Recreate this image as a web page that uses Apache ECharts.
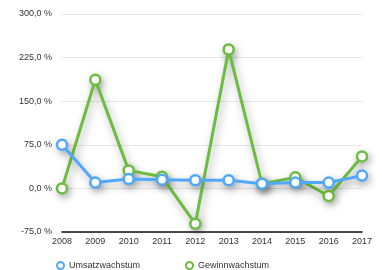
<!DOCTYPE html>
<html><head><meta charset="utf-8">
<script src="https://cdn.jsdelivr.net/npm/echarts@6/dist/echarts.min.js"></script>
<style>html,body{margin:0;padding:0;background:#fff}#c{width:382px;height:270px}</style>
</head><body><div id="c"></div>
<script>
var years = ['2008','2009','2010','2011','2012','2013','2014','2015','2016','2017'];
var umsatz = [75, 10, 16, 15, 14, 14, 8, 10, 10, 22];
var gewinn = [0, 187, 31, 20, -61, 239, 8, 19, -13, 55];
var seriesNames = ['Umsatzwachstum', 'Gewinnwachstum'];
var colors = ['#4fa8fa', '#6cbd3f'];

var chart = echarts.init(document.getElementById('c'));
function mk(name, data, color, z) {
  return {
    name: name, type: 'line', data: data, z: z,
    symbol: 'circle', symbolSize: 10,
    itemStyle: { color: '#fff', borderColor: color, borderWidth: 2.5 },
    lineStyle: { color: color, width: 3,
      shadowColor: 'rgba(0,0,0,0.35)', shadowBlur: 8, shadowOffsetX: 2, shadowOffsetY: 4 },
    emphasis: { disabled: true }
  };
}
function shadowLayer(data) {
  return {
    type: 'scatter', data: data, z: 1, symbolSize: 11, silent: true,
    itemStyle: { color: '#fff', shadowColor: 'rgba(0,0,0,0.55)', shadowBlur: 9, shadowOffsetX: 2, shadowOffsetY: 3 }
  };
}
chart.setOption({
  animation: false,
  color: colors,
  grid: { left: 62, right: 20, top: 14, bottom: 38 },
  legend: {
    left: 51, top: 256, itemGap: 45, itemWidth: 7, itemHeight: 7,
    icon: 'circle',
    textStyle: { fontSize: 9, color: '#333', fontFamily: 'Liberation Sans' },
    data: [
      { name: seriesNames[0], itemStyle: { color: '#fff', borderColor: colors[0], borderWidth: 2 } },
      { name: seriesNames[1], itemStyle: { color: '#fff', borderColor: colors[1], borderWidth: 2 } }
    ]
  },
  xAxis: {
    type: 'category', data: years, boundaryGap: false,
    axisLine: { onZero: false, lineStyle: { color: '#111', width: 1.5 } },
    axisTick: { show: false },
    axisLabel: { fontSize: 9, color: '#333', margin: 5, fontFamily: 'Liberation Sans' }
  },
  yAxis: {
    type: 'value', min: -75, max: 300, interval: 75,
    axisLine: { show: false }, axisTick: { show: false },
    splitLine: { lineStyle: { color: '#e8e8e8', width: 1 } },
    axisLabel: { fontSize: 9, color: '#333', margin: 10, fontFamily: 'Liberation Sans',
      formatter: function (v) { return v.toFixed(1).replace('.', ',') + ' %'; } }
  },
  series: [shadowLayer(gewinn), shadowLayer(umsatz),
    mk(seriesNames[1], gewinn, colors[1], 2), mk(seriesNames[0], umsatz, colors[0], 3)]
});
</script></body></html>
